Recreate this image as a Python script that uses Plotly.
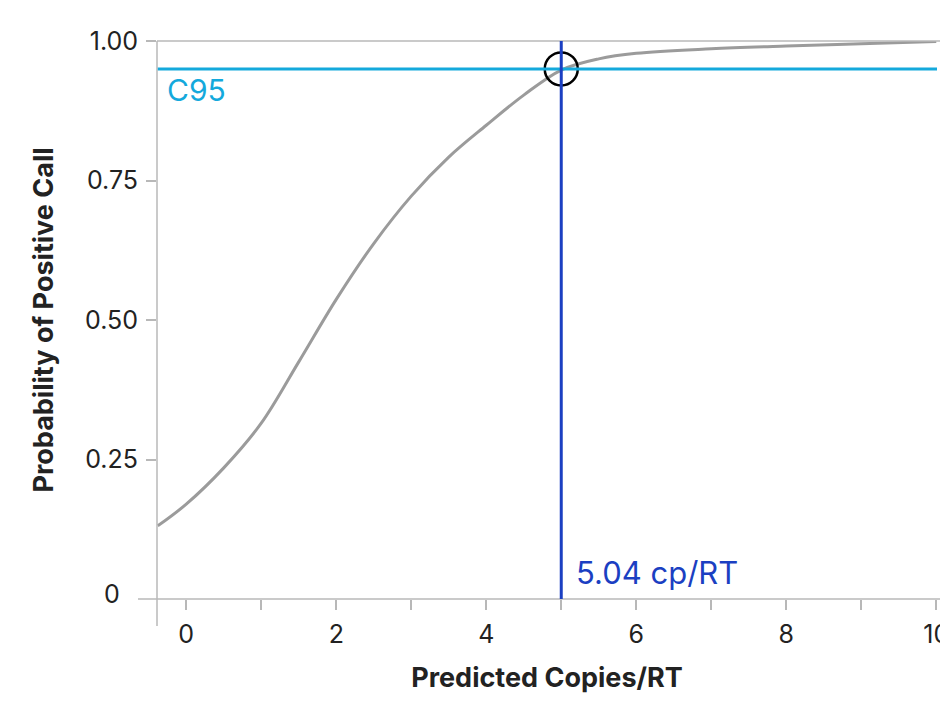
import plotly.graph_objects as go

# ---- data ----
copies = [-0.38, 0.0, 0.5, 1.0, 1.5, 2.0, 2.5, 3.0, 3.5, 4.0, 4.5, 5.0, 5.5, 6.0, 7.0, 8.0, 9.0, 10.0]
prob = [0.131, 0.17, 0.235, 0.315, 0.425, 0.537, 0.637, 0.722, 0.792, 0.849, 0.903, 0.948, 0.968, 0.978, 0.986, 0.991, 0.995, 0.999]

c95_level = 0.95
c95_label = "C95"
lod_x = 5.0
lod_label = "5.04 cp/RT"

x_tick_vals = [0, 2, 4, 6, 8, 10]
x_tick_text = ["0", "2", "4", "6", "8", "10"]
y_tick_vals = [0.25, 0.5, 0.75, 1.0]
y_tick_text = ["0.25", "0.50", "0.75", "1.00"]
y_zero_label = "0"

x_title = "Predicted Copies/RT"
y_title = "Probability of Positive Call"

GRAY_AX = "#b8b8b8"
CYAN = "#14a9dc"
BLUE = "#1b3fc2"
TXT = "#222222"
FONT = "Inter"

fig = go.Figure()
fig.add_trace(go.Scatter(
    x=copies, y=prob, mode="lines",
    line=dict(color="#9b9b9b", width=3, shape="spline", smoothing=1.0),
    hoverinfo="skip", showlegend=False,
))
fig.add_trace(go.Scatter(
    x=[lod_x], y=[c95_level], mode="markers",
    marker=dict(size=33, color="rgba(0,0,0,0)", line=dict(color="#000000", width=2.5)),
    hoverinfo="skip", showlegend=False,
))

shapes = [
    dict(type="line", xref="paper", yref="paper", x0=0, x1=1.005, y0=1, y1=1,
         line=dict(color=GRAY_AX, width=1.5)),
    dict(type="line", xref="paper", yref="paper", x0=0, x1=0, y0=-0.0484, y1=1,
         line=dict(color=GRAY_AX, width=1.5)),
    dict(type="line", xref="paper", yref="paper", x0=-0.0244, x1=1.005, y0=0, y1=0,
         line=dict(color=GRAY_AX, width=1.5)),
    dict(type="line", xref="paper", yref="y", x0=0.001, x1=1.0, y0=c95_level, y1=c95_level,
         line=dict(color=CYAN, width=3)),
    dict(type="line", xref="x", yref="paper", x0=lod_x, x1=lod_x, y0=0, y1=1,
         line=dict(color=BLUE, width=3)),
]

annotations = [
    dict(text=c95_label, xref="paper", yref="paper", x=0.0105, y=0.912,
         xanchor="left", yanchor="middle", showarrow=False,
         font=dict(family=FONT, size=30, color=CYAN)),
    dict(text=lod_label, xref="x", yref="paper", x=lod_x, xshift=13, y=0.048,
         xanchor="left", yanchor="middle", showarrow=False,
         font=dict(family=FONT, size=31, color=BLUE)),
    dict(text=y_zero_label, xref="paper", yref="paper", x=-0.0449, y=0.009,
         xanchor="right", yanchor="middle", showarrow=False,
         font=dict(family=FONT, size=25, color=TXT)),
]

fig.update_layout(
    width=940, height=703,
    margin=dict(l=157, r=3, t=41, b=104),
    paper_bgcolor="white", plot_bgcolor="white",
    font=dict(family=FONT, color=TXT),
    shapes=shapes, annotations=annotations,
    xaxis=dict(
        range=[-0.39, 10.01], showgrid=False, zeroline=False, showline=False,
        automargin=False, ticklabeloverflow="allow",
        tickmode="array", tickvals=x_tick_vals, ticktext=x_tick_text,
        ticks="outside", ticklen=10, tickwidth=1.5, tickcolor=GRAY_AX,
        minor=dict(dtick=1, tick0=0, ticks="outside", ticklen=10, tickwidth=1.5, tickcolor=GRAY_AX, showgrid=False),
        tickfont=dict(family=FONT, size=25, color=TXT),
        ticklabelstandoff=3,
        title=dict(text=x_title, font=dict(family=FONT, size=27, color=TXT, weight="bold"), standoff=20),
    ),
    yaxis=dict(
        range=[0, 1], showgrid=False, zeroline=False, showline=False,
        automargin=False,
        tickmode="array", tickvals=y_tick_vals, ticktext=y_tick_text,
        ticks="outside", ticklen=10, tickwidth=1.5, tickcolor=GRAY_AX,
        tickfont=dict(family=FONT, size=25, color=TXT),
        ticklabelstandoff=3,
        title=dict(text=y_title, font=dict(family=FONT, size=27, color=TXT, weight="bold"), standoff=23),
    ),
)

fig.write_html("out.html", config={"displayModeBar": False},
               post_script="document.body.style.margin='0px';")
